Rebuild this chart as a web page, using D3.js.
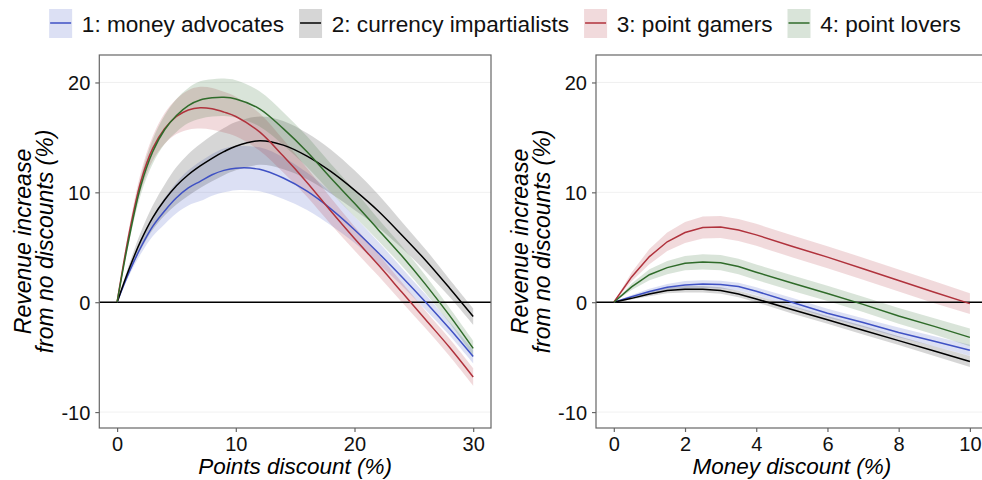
<!DOCTYPE html>
<html>
<head>
<meta charset="utf-8">
<script src="https://cdn.jsdelivr.net/npm/d3@7"></script>
<style>
  body { margin: 0; background: #fff; }
  svg { display: block; font-family: "Liberation Sans", Arial, sans-serif; }
</style>
</head>
<body>
<div id="chart"></div>
<script>
// Groupes et couleurs
const groups = ["1: money advocates", "2: currency impartialists", "3: point gamers", "4: point lovers"];
const colors = ["#3f51c4", "#000000", "#b0323c", "#2f6b2a"];

// Panneau gauche : remise en points (%)
const pointsX = [0, 1, 2, 3, 4, 5, 6, 7, 8, 9, 10, 12, 14, 16, 18, 20, 22, 24, 26, 28, 30];
const ptsMoney    = [0, 2.7, 5.0, 6.9, 8.3, 9.5, 10.4, 11.0, 11.6, 12.0, 12.2, 12.1, 11.3, 10.1, 8.5, 6.6, 4.5, 2.3, 0.0, -2.4, -4.95];
const ptsCurrency = [0, 3.0, 5.6, 7.7, 9.3, 10.6, 11.6, 12.4, 13.1, 13.7, 14.2, 14.7, 14.3, 13.3, 11.9, 10.2, 8.3, 6.1, 3.8, 1.3, -1.3];
const ptsGamers   = [0, 6.2, 11.0, 14.0, 15.8, 16.9, 17.5, 17.7, 17.6, 17.3, 16.9, 15.5, 13.3, 10.9, 8.3, 5.8, 3.4, 0.9, -1.6, -4.1, -6.8];
const ptsLovers   = [0, 5.8, 10.6, 13.7, 15.7, 17.0, 17.9, 18.4, 18.6, 18.65, 18.5, 17.6, 15.8, 13.7, 11.3, 9.0, 6.6, 4.2, 1.6, -1.2, -4.2];
// demi-largeur des bandes
const ptsMoneyBand    = [0, 0.3, 0.6, 0.9, 1.2, 1.4, 1.6, 1.8, 1.9, 2.0, 2.0, 2.0, 1.9, 1.7, 1.5, 1.2, 1.0, 0.8, 0.7, 0.6, 0.6];
const ptsCurrencyBand = [0, 0.4, 0.8, 1.1, 1.4, 1.7, 1.9, 2.0, 2.1, 2.15, 2.2, 2.2, 2.2, 2.1, 2.0, 1.8, 1.5, 1.2, 1.0, 0.8, 0.75];
const ptsGamersBand   = [0, 0.5, 0.8, 1.1, 1.4, 1.6, 1.8, 1.9, 1.9, 1.85, 1.8, 1.7, 1.5, 1.3, 1.2, 1.1, 1.0, 0.9, 0.8, 0.8, 0.8];
const ptsLoversBand   = [0, 0.4, 0.8, 1.1, 1.3, 1.5, 1.6, 1.7, 1.7, 1.7, 1.7, 1.6, 1.5, 1.4, 1.3, 1.2, 1.0, 0.9, 0.8, 0.7, 0.7];

// Panneau droit : remise en argent (%)
const moneyX = [0, 0.5, 1, 1.5, 2, 2.5, 3, 3.5, 4, 5, 6, 7, 8, 9, 10];
const monMoney    = [0, 0.5, 0.97, 1.36, 1.57, 1.65, 1.6, 1.42, 1.0, 0.0, -1.0, -1.85, -2.75, -3.55, -4.37];
const monCurrency = [0, 0.35, 0.75, 1.06, 1.18, 1.18, 1.06, 0.75, 0.3, -0.67, -1.6, -2.55, -3.5, -4.45, -5.4];
const monGamers   = [0, 2.3, 4.15, 5.5, 6.34, 6.8, 6.85, 6.58, 6.13, 5.1, 4.1, 3.05, 1.97, 0.9, -0.13];
const monLovers   = [0, 1.4, 2.5, 3.15, 3.55, 3.67, 3.6, 3.25, 2.73, 1.75, 0.8, -0.2, -1.25, -2.2, -3.2];
const monMoneyBand    = [0, 0.15, 0.25, 0.3, 0.35, 0.35, 0.35, 0.35, 0.35, 0.4, 0.4, 0.4, 0.45, 0.45, 0.5];
const monCurrencyBand = [0, 0.1, 0.2, 0.25, 0.3, 0.3, 0.3, 0.3, 0.3, 0.35, 0.35, 0.4, 0.4, 0.45, 0.5];
const monGamersBand   = [0, 0.4, 0.7, 0.85, 0.95, 1.0, 1.0, 1.0, 1.0, 1.0, 1.0, 1.0, 1.0, 1.0, 0.95];
const monLoversBand   = [0, 0.3, 0.5, 0.6, 0.65, 0.7, 0.7, 0.7, 0.7, 0.7, 0.7, 0.7, 0.72, 0.75, 0.8];

const yTicks = [-10, 0, 10, 20];
const pointsTicks = [0, 10, 20, 30];
const moneyTicks = [0, 2, 4, 6, 8, 10];

const W = 982, H = 480;
const svg = d3.select("#chart").append("svg")
  .attr("width", W)
  .attr("height", H);

const yScale = d3.scaleLinear().domain([-11.45, 22.5]).range([428, 55]);

function panel(opts) {
  const x = d3.scaleLinear().domain(opts.domain).range(opts.range);
  const g = svg.append("g");
  const [x0, x1] = opts.range;

  // grille horizontale
  g.selectAll(".grid").data(yTicks).join("line")
    .attr("x1", x0).attr("x2", x1)
    .attr("y1", d => yScale(d)).attr("y2", d => yScale(d))
    .attr("stroke", "#ececec").attr("stroke-width", 0.8);

  const series = opts.mids.map((m, i) => opts.xs.map((xv, j) => ({
    x: xv, y: m[j], lo: m[j] - opts.bands[i][j], hi: m[j] + opts.bands[i][j]
  })));

  const area = d3.area()
    .x(d => x(d.x)).y0(d => yScale(d.lo)).y1(d => yScale(d.hi))
    .curve(opts.curve);
  const line = d3.line()
    .x(d => x(d.x)).y(d => yScale(d.y))
    .curve(opts.curve);

  // bandes de confiance
  series.forEach((s, i) => {
    g.append("path").attr("d", area(s))
      .attr("fill", colors[i]).attr("fill-opacity", i === 1 ? 0.16 : 0.18);
  });

  // ligne zéro
  g.append("line")
    .attr("x1", x0).attr("x2", x1)
    .attr("y1", yScale(0)).attr("y2", yScale(0))
    .attr("stroke", "#000").attr("stroke-width", 1.5);

  series.forEach((s, i) => {
    g.append("path").attr("d", line(s))
      .attr("fill", "none").attr("stroke", colors[i]).attr("stroke-width", 1.5);
  });

  // cadre
  g.append("rect")
    .attr("x", x0).attr("y", 55)
    .attr("width", x1 - x0).attr("height", 428 - 55)
    .attr("fill", "none").attr("stroke", "#666").attr("stroke-width", 1.2);

  // axes
  const fmt = d => String(d);
  const xAxis = g.append("g")
    .attr("transform", "translate(0,428)")
    .call(d3.axisBottom(x).tickValues(opts.ticks).tickSize(4).tickPadding(4).tickFormat(fmt));
  const yAxis = g.append("g")
    .attr("transform", `translate(${x0},0)`)
    .call(d3.axisLeft(yScale).tickValues(yTicks).tickSize(4).tickPadding(5).tickFormat(fmt));
  [xAxis, yAxis].forEach(a => {
    a.select(".domain").remove();
    a.selectAll(".tick line").attr("stroke", "#666").attr("stroke-width", 1.2);
    a.selectAll(".tick text")
      .attr("fill", "#111")
      .style("font-size", "20px")
      .style("font-family", "Liberation Sans, Arial, sans-serif");
  });
  xAxis.selectAll(".tick text").attr("dy", "0.76em");
  yAxis.selectAll(".tick text").attr("dy", "0.36em");

  // titres des axes
  g.append("text")
    .attr("x", (x0 + x1) / 2)
    .attr("y", 474)
    .attr("text-anchor", "middle")
    .style("font-size", "22.5px").style("font-style", "italic")
    .text(opts.title);

  const yt = g.append("text")
    .attr("transform", `translate(${x0 - 68},241.5) rotate(-90)`)
    .attr("text-anchor", "middle")
    .style("font-size", "23px").style("font-style", "italic");
  yt.append("tspan").attr("x", 0).attr("y", 0).text("Revenue increase");
  yt.append("tspan").attr("x", 0).attr("y", 22).text("from no discounts (%)");
}

panel({
  domain: [-1.5, 31.5], range: [99.3, 491],
  xs: pointsX,
  mids: [ptsMoney, ptsCurrency, ptsGamers, ptsLovers],
  bands: [ptsMoneyBand, ptsCurrencyBand, ptsGamersBand, ptsLoversBand],
  ticks: pointsTicks,
  curve: d3.curveCatmullRom.alpha(0.5),
  title: "Points discount (%)"
});

panel({
  domain: [-0.5, 10.5], range: [596, 987.7],
  xs: moneyX,
  mids: [monMoney, monCurrency, monGamers, monLovers],
  bands: [monMoneyBand, monCurrencyBand, monGamersBand, monLoversBand],
  ticks: moneyTicks,
  curve: d3.curveLinear,
  title: "Money discount (%)"
});

// Légende
const legend = svg.append("g");
const items = legend.selectAll("g").data(groups).join("g");
items.append("rect")
  .attr("width", 23).attr("height", 29).attr("y", 9)
  .attr("fill", (d, i) => colors[i]).attr("fill-opacity", (d, i) => i === 1 ? 0.16 : 0.18);
items.append("line")
  .attr("x1", 1).attr("x2", 22).attr("y1", 23).attr("y2", 23)
  .attr("stroke", (d, i) => colors[i]).attr("stroke-width", 1.5);
items.append("text")
  .attr("x", 32.7).attr("y", 32)
  .style("font-size", "22.6px")
  .attr("fill", "#111")
  .text(d => d);

let offs = [], pos = 0;
items.each(function () {
  offs.push(pos);
  const w = d3.select(this).select("text").node().getComputedTextLength();
  pos += 32.7 + w + 15;
});
const total = pos - 15;
const start = 505 - total / 2;
items.attr("transform", (d, i) => `translate(${start + offs[i]},0)`);
</script>
</body>
</html>
